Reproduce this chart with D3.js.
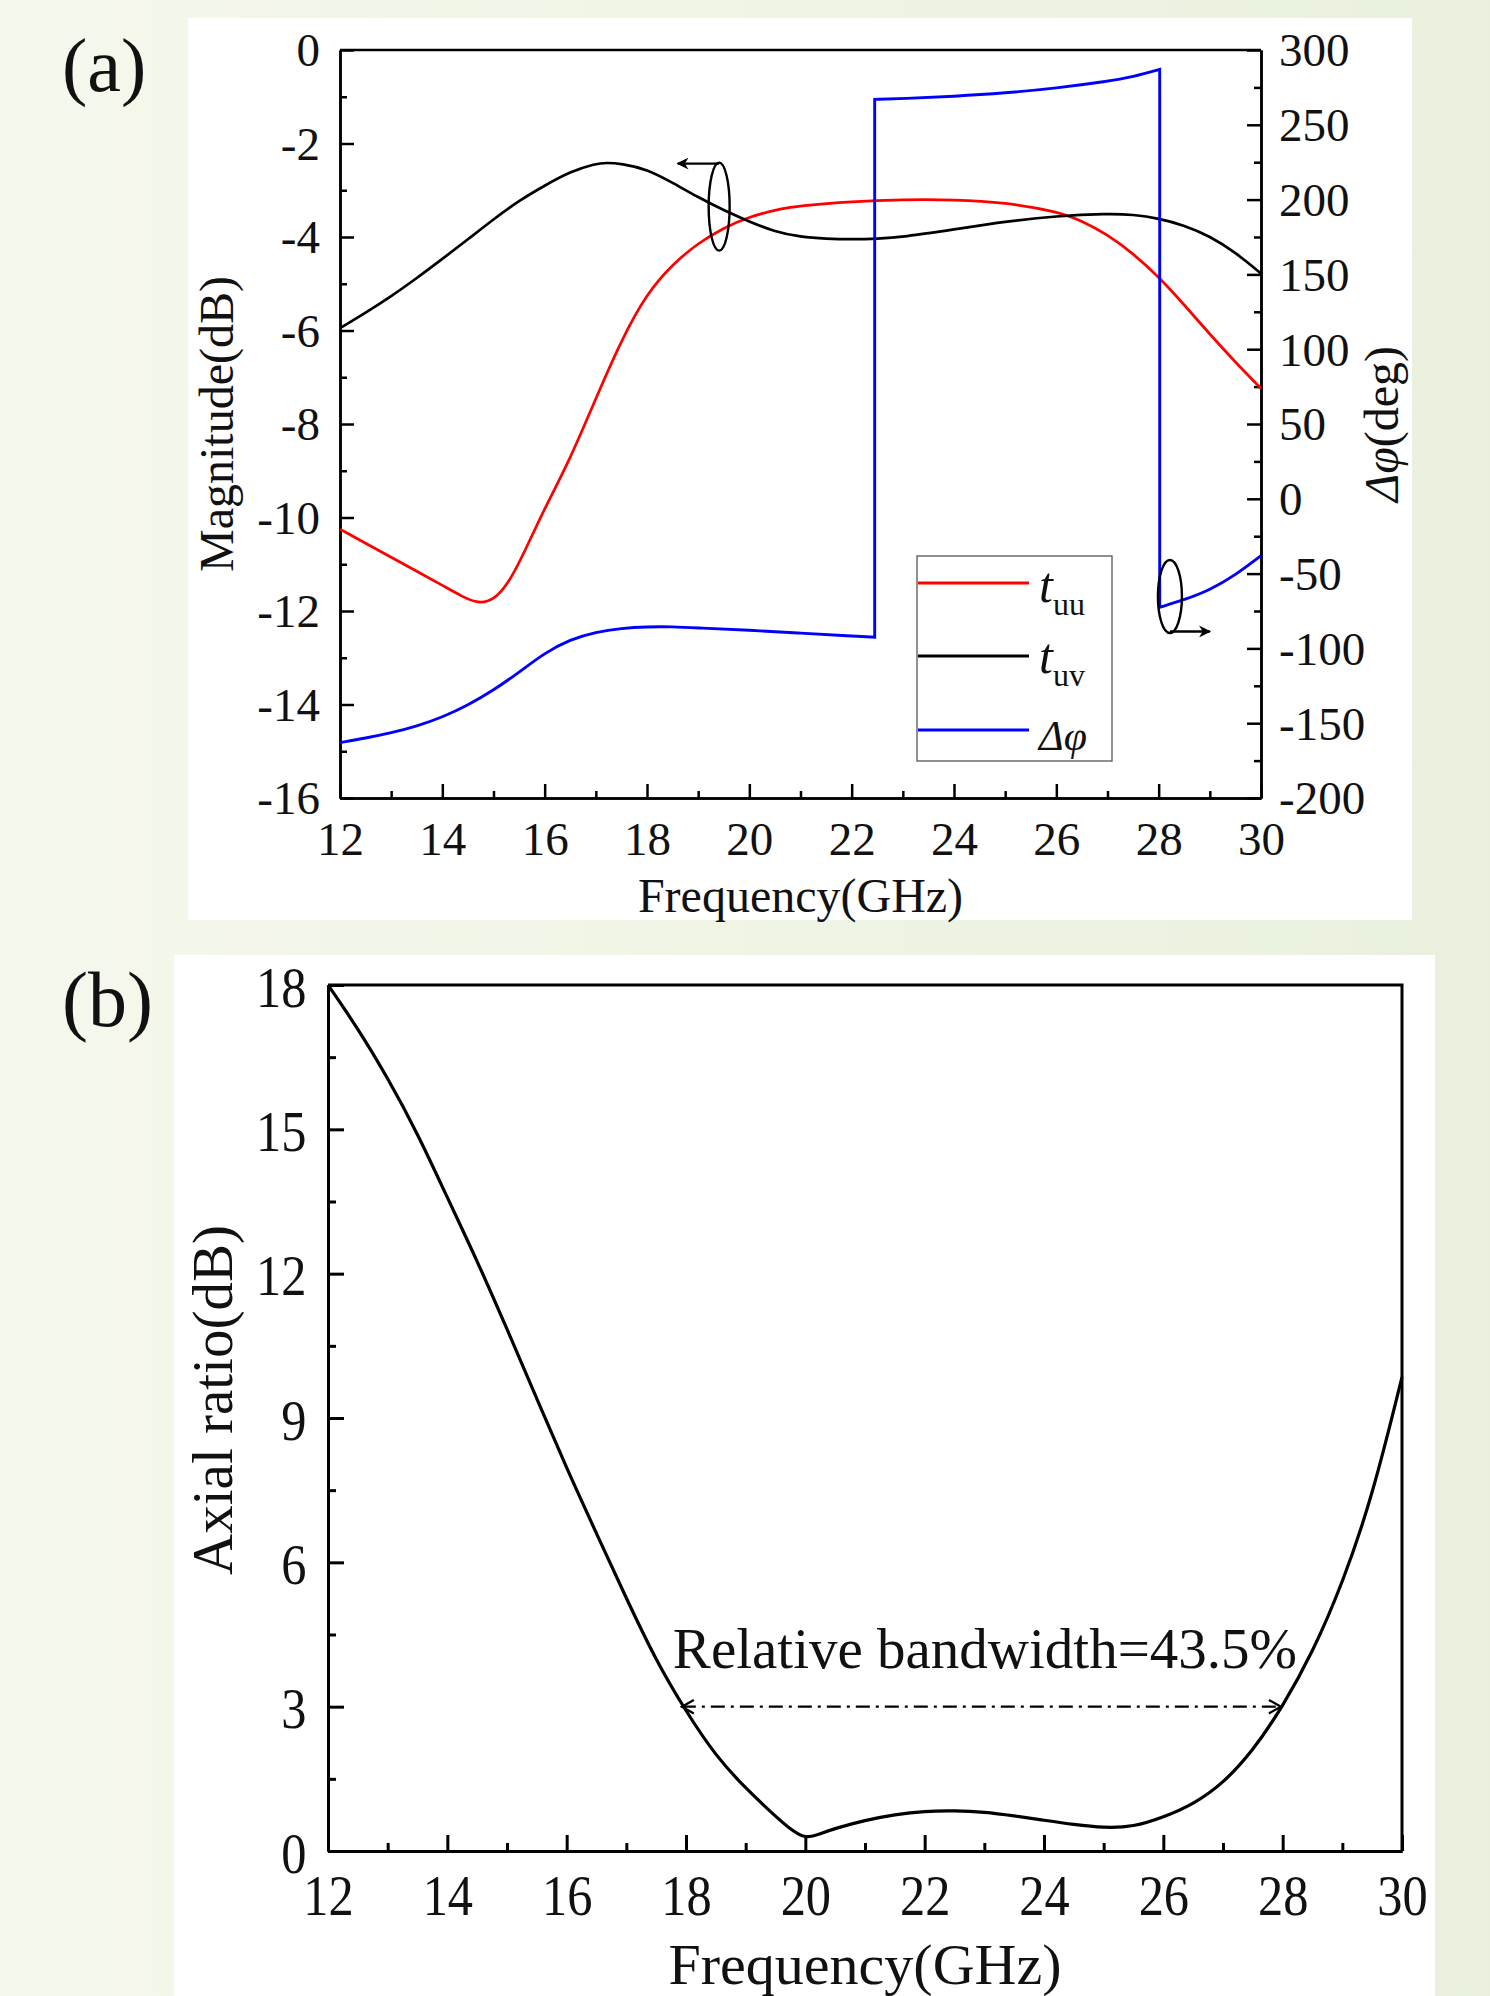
<!DOCTYPE html>
<html>
<head>
<meta charset="utf-8">
<script src="https://cdnjs.cloudflare.com/ajax/libs/d3/7.8.5/d3.min.js"></script>
<style>
  body { margin: 0; background: #eef3e3; }
  svg { display: block; }
  text { font-family: "Liberation Serif", "Times New Roman", serif; fill: #111; }
</style>
</head>
<body>
<div id="chart"></div>
<script>
// Transmission magnitude / phase (a) and axial ratio (b)

var width = 1490
var height = 1996

// ---- panel (a) data ----
var tuuFreq = [12, 12.5, 13, 13.5, 14, 14.4, 14.7, 15, 15.3, 15.6, 16, 16.5, 17, 17.5, 18, 18.5, 19, 19.5, 20, 20.5, 21, 22, 23, 24, 25, 26, 26.5, 27, 27.5, 28, 28.5, 29, 29.5, 30]
var tuuDb   = [-10.25, -10.55, -10.85, -11.15, -11.45, -11.7, -11.84, -11.78, -11.4, -10.75, -9.8, -8.75, -7.45, -6.2, -5.2, -4.58, -4.13, -3.8, -3.57, -3.42, -3.33, -3.24, -3.2, -3.2, -3.26, -3.45, -3.65, -3.95, -4.35, -4.85, -5.45, -6.08, -6.68, -7.24]

var tuvFreq = [12, 12.5, 13, 13.5, 14, 14.5, 15, 15.5, 16, 16.5, 17, 17.2, 17.5, 18, 18.5, 19, 19.5, 20, 20.5, 21, 21.5, 22, 22.5, 23, 24, 25, 26, 27, 27.5, 28, 28.5, 29, 29.5, 30]
var tuvDb   = [-5.95, -5.62, -5.27, -4.88, -4.47, -4.05, -3.62, -3.22, -2.9, -2.6, -2.43, -2.41, -2.43, -2.55, -2.84, -3.15, -3.43, -3.67, -3.89, -4.0, -4.04, -4.05, -4.04, -4.0, -3.84, -3.67, -3.55, -3.5, -3.52, -3.6, -3.75, -3.98, -4.33, -4.78]

// phase difference, three branches (wraps at 22.45 and 28.02 GHz)
var phaseLowFreq  = [12, 12.5, 13, 13.5, 14, 14.5, 15, 15.5, 16, 16.5, 17, 17.5, 18, 18.5, 19, 20, 21, 22, 22.45]
var phaseLowDeg   = [-163, -160, -156.5, -152, -146, -138, -128, -116, -103, -94, -89, -86.5, -85.5, -85.5, -86.3, -87.8, -89.8, -91.7, -92.5]
var phaseHighFreq = [22.45, 23, 24, 25, 26, 27, 27.5, 28.02]
var phaseHighDeg  = [267, 267.5, 269, 271.2, 274.5, 279, 282, 287]
var phaseEndFreq  = [28.02, 28.5, 29, 29.5, 30]
var phaseEndDeg   = [-72.5, -67.5, -61, -51, -38]

var magTicks = [0, -2, -4, -6, -8, -10, -12, -14, -16]
var phaseTicks = [300, 250, 200, 150, 100, 50, 0, -50, -100, -150, -200]
var freqTicks = [12, 14, 16, 18, 20, 22, 24, 26, 28, 30]

// ---- panel (b) data ----
var arFreq = [12, 12.5, 13, 13.5, 14, 14.5, 15, 15.5, 16, 16.5, 17, 17.5, 18, 18.5, 19, 19.5, 19.75, 20, 20.25, 20.5, 21, 21.5, 22, 22.5, 23, 23.5, 24, 24.5, 25, 25.5, 26, 26.5, 27, 27.5, 28, 28.5, 29, 29.5, 30]
var arDb   = [18.0, 17.1, 16.07, 14.92, 13.58, 12.27, 10.85, 9.4, 7.95, 6.6, 5.25, 3.95, 2.9, 1.97, 1.3, 0.72, 0.45, 0.25, 0.36, 0.47, 0.64, 0.76, 0.83, 0.84, 0.81, 0.73, 0.64, 0.55, 0.48, 0.5, 0.7, 0.97, 1.4, 2.08, 3.0, 4.12, 5.55, 7.35, 9.85]
var arTicks = [0, 3, 6, 9, 12, 15, 18]
var bandStart = 17.93
var bandEnd = 27.97
var bandLabel = "Relative bandwidth=43.5%"

var svg = d3.select("#chart")
  .append("svg")
    .attr("width", width)
    .attr("height", height)

var defs = svg.append("defs")
var grad = defs.append("linearGradient").attr("id", "bg").attr("x1", 0).attr("x2", 1).attr("y1", 0).attr("y2", 0)
grad.append("stop").attr("offset", "0%").attr("stop-color", "#f5f8ec")
grad.append("stop").attr("offset", "100%").attr("stop-color", "#e9f1de")

defs.append("marker").attr("id", "headFill")
    .attr("viewBox", "0 0 10 10").attr("refX", 9).attr("refY", 5)
    .attr("markerWidth", 14).attr("markerHeight", 12).attr("markerUnits", "userSpaceOnUse")
    .attr("orient", "auto")
  .append("path").attr("d", "M0,0 L10,5 L0,10 L3,5 Z").attr("fill", "#000")

defs.append("marker").attr("id", "headOpen")
    .attr("viewBox", "0 0 10 10").attr("refX", 9).attr("refY", 5)
    .attr("markerWidth", 15).attr("markerHeight", 17).attr("markerUnits", "userSpaceOnUse")
    .attr("orient", "auto-start-reverse")
  .append("path").attr("d", "M1,0.5 L9,5 L1,9.5").attr("fill", "none").attr("stroke", "#000").attr("stroke-width", 1.5)

svg.append("rect").attr("width", width).attr("height", height).attr("fill", "url(#bg)")

// ================= panel (a) =================
svg.append("rect").attr("x", 188).attr("y", 18).attr("width", 1224).attr("height", 902).attr("fill", "#fff")

var ax = { left: 340, right: 1261, top: 50, bottom: 798 }

var xA = d3.scaleLinear().domain([12, 30]).range([ax.left, ax.right])
var yMag = d3.scaleLinear().domain([-16, 0]).range([ax.bottom, ax.top])
var yPh = d3.scaleLinear().domain([-200, 300]).range([ax.bottom, ax.top])

function minorOf(ticks) {
  var out = []
  for (var i = 0; i < ticks.length - 1; i++) out.push((ticks[i] + ticks[i + 1]) / 2)
  return out
}

function styleAxis(g, w) {
  g.selectAll("path.domain").attr("stroke", "#000").attr("stroke-width", w)
  g.selectAll(".tick line").attr("stroke", "#000").attr("stroke-width", w)
}

// x axis
var gxA = svg.append("g").attr("transform", "translate(0," + ax.bottom + ")")
  .call(d3.axisBottom(xA).tickValues(freqTicks).tickSize(-14).tickSizeOuter(0))
gxA.call(styleAxis, 2.5)
gxA.selectAll("text").attr("y", 57).attr("dy", null).attr("font-size", 47).style("font-family", "Liberation Serif")
svg.append("g").attr("transform", "translate(0," + ax.bottom + ")")
  .call(d3.axisBottom(xA).tickValues(minorOf(freqTicks)).tickSize(-7).tickSizeOuter(0).tickFormat(""))
  .call(styleAxis, 2.5)

// left axis
var gyA = svg.append("g").attr("transform", "translate(" + ax.left + ",0)")
  .call(d3.axisLeft(yMag).tickValues(magTicks).tickSize(-14).tickPadding(20).tickSizeOuter(0))
gyA.call(styleAxis, 2.5)
gyA.selectAll("text").attr("font-size", 47).attr("dy", "0.34em").style("font-family", "Liberation Serif")
  .text(function(d) { return String(d) })
svg.append("g").attr("transform", "translate(" + ax.left + ",0)")
  .call(d3.axisLeft(yMag).tickValues(minorOf(magTicks)).tickSize(-7).tickSizeOuter(0).tickFormat(""))
  .call(styleAxis, 2.5)

// right axis
var gyR = svg.append("g").attr("transform", "translate(" + ax.right + ",0)")
  .call(d3.axisRight(yPh).tickValues(phaseTicks).tickSize(-14).tickPadding(18).tickSizeOuter(0))
gyR.call(styleAxis, 2.5)
gyR.selectAll("text").attr("font-size", 47).attr("dy", "0.34em").style("font-family", "Liberation Serif")
  .text(function(d) { return String(d) })
svg.append("g").attr("transform", "translate(" + ax.right + ",0)")
  .call(d3.axisRight(yPh).tickValues(minorOf(phaseTicks)).tickSize(-7).tickSizeOuter(0).tickFormat(""))
  .call(styleAxis, 2.5)

// top frame line
svg.append("line").attr("x1", ax.left).attr("x2", ax.right).attr("y1", ax.top).attr("y2", ax.top)
  .attr("stroke", "#000").attr("stroke-width", 2.5)

// curves
var magLine = d3.line().x(function(d) { return xA(d[0]) }).y(function(d) { return yMag(d[1]) }).curve(d3.curveBasis)
var phLine = d3.line().x(function(d) { return xA(d[0]) }).y(function(d) { return yPh(d[1]) }).curve(d3.curveBasis)

svg.append("path").datum(d3.zip(tuuFreq, tuuDb)).attr("d", magLine)
  .attr("fill", "none").attr("stroke", "#ff0000").attr("stroke-width", 2.7)
svg.append("path").datum(d3.zip(tuvFreq, tuvDb)).attr("d", magLine)
  .attr("fill", "none").attr("stroke", "#000").attr("stroke-width", 2.7)

var phasePath = phLine(d3.zip(phaseLowFreq, phaseLowDeg))
  + phLine(d3.zip(phaseHighFreq, phaseHighDeg)).replace(/^M/, "L")
  + phLine(d3.zip(phaseEndFreq, phaseEndDeg)).replace(/^M/, "L")
svg.append("path").attr("d", phasePath)
  .attr("fill", "none").attr("stroke", "#0000ff").attr("stroke-width", 2.9)

// axis-pointer annotations
svg.append("ellipse").attr("cx", xA(19.41)).attr("cy", yMag(-3.35)).attr("rx", 10.5).attr("ry", 44)
  .attr("fill", "none").attr("stroke", "#000").attr("stroke-width", 2.4)
svg.append("line").attr("x1", xA(19.41)).attr("y1", yMag(-3.35) - 43).attr("x2", xA(18.6)).attr("y2", yMag(-3.35) - 43)
  .attr("stroke", "#000").attr("stroke-width", 2.4).attr("marker-end", "url(#headFill)")

svg.append("ellipse").attr("cx", xA(28.22)).attr("cy", yPh(-65.3)).attr("rx", 12).attr("ry", 36.5)
  .attr("fill", "none").attr("stroke", "#000").attr("stroke-width", 2.4)
svg.append("line").attr("x1", xA(28.22)).attr("y1", yPh(-65.3) + 35).attr("x2", xA(29.0)).attr("y2", yPh(-65.3) + 35)
  .attr("stroke", "#000").attr("stroke-width", 2.4).attr("marker-end", "url(#headFill)")

// legend
var legend = svg.append("g")
legend.append("rect").attr("x", 917).attr("y", 556).attr("width", 195).attr("height", 205)
  .attr("fill", "#fff").attr("stroke", "#555").attr("stroke-width", 1.3)
var legendItems = [
  { color: "#ff0000", ly: 583, ty: 602, main: "t", sub: "uu", size: 50 },
  { color: "#000000", ly: 656, ty: 673, main: "t", sub: "uv", size: 50 },
  { color: "#0000ff", ly: 730, ty: 750, main: "\u0394\u03c6", sub: "", size: 42 }
]
legendItems.forEach(function(it) {
  legend.append("line").attr("x1", 918).attr("x2", 1029).attr("y1", it.ly).attr("y2", it.ly)
    .attr("stroke", it.color).attr("stroke-width", 3)
  var t = legend.append("text").attr("x", 1039).attr("y", it.ty).attr("font-size", it.size)
  t.append("tspan").attr("font-style", "italic").text(it.main)
  if (it.sub) t.append("tspan").attr("font-size", 32).attr("dy", 13).text(it.sub)
})

// titles
svg.append("text").attr("x", (ax.left + ax.right) / 2).attr("y", 912).attr("text-anchor", "middle")
  .attr("font-size", 48).text("Frequency(GHz)")
svg.append("text").attr("transform", "translate(233," + ((ax.top + ax.bottom) / 2) + ") rotate(-90)")
  .attr("text-anchor", "middle").attr("font-size", 48).text("Magnitude(dB)")
var phTitle = svg.append("text").attr("transform", "translate(1398," + ((ax.top + ax.bottom) / 2) + ") rotate(-90)")
  .attr("text-anchor", "middle").attr("font-size", 48)
phTitle.append("tspan").attr("font-style", "italic").text("\u0394\u03c6")
phTitle.append("tspan").text("(deg)")

svg.append("text").attr("x", 62).attr("y", 91).attr("font-size", 76).text("(a)")

// ================= panel (b) =================
svg.append("rect").attr("x", 174).attr("y", 955).attr("width", 1261).attr("height", 1041).attr("fill", "#fff")

var bx = { left: 328, right: 1402, top: 985, bottom: 1851 }
var xB = d3.scaleLinear().domain([12, 30]).range([bx.left, bx.right])
var yB = d3.scaleLinear().domain([0, 18]).range([bx.bottom, bx.top])

var gxB = svg.append("g").attr("transform", "translate(0," + bx.bottom + ")")
  .call(d3.axisBottom(xB).tickValues(freqTicks).tickSize(-16).tickSizeOuter(0))
gxB.call(styleAxis, 3)
gxB.selectAll("text").attr("y", 64).attr("dy", null).attr("font-size", 56).attr("transform", "scale(0.9,1)")
  .style("font-family", "Liberation Serif")
svg.append("g").attr("transform", "translate(0," + bx.bottom + ")")
  .call(d3.axisBottom(xB).tickValues(minorOf(freqTicks)).tickSize(-8).tickSizeOuter(0).tickFormat(""))
  .call(styleAxis, 3)

var gyB = svg.append("g").attr("transform", "translate(" + bx.left + ",0)")
  .call(d3.axisLeft(yB).tickValues(arTicks).tickSize(-16).tickPadding(24).tickSizeOuter(0))
gyB.call(styleAxis, 3)
gyB.selectAll("text").attr("font-size", 56).attr("dy", "0.38em").attr("transform", "scale(0.9,1)")
  .style("font-family", "Liberation Serif")
svg.append("g").attr("transform", "translate(" + bx.left + ",0)")
  .call(d3.axisLeft(yB).tickValues(minorOf(arTicks)).tickSize(-8).tickSizeOuter(0).tickFormat(""))
  .call(styleAxis, 3)

svg.append("path").attr("d", "M" + bx.left + "," + bx.top + "H" + bx.right + "V" + bx.bottom)
  .attr("fill", "none").attr("stroke", "#000").attr("stroke-width", 3)

var arLine = d3.line().x(function(d) { return xB(d[0]) }).y(function(d) { return yB(d[1]) }).curve(d3.curveBasis)
svg.append("path").datum(d3.zip(arFreq, arDb)).attr("d", arLine)
  .attr("fill", "none").attr("stroke", "#000").attr("stroke-width", 3.2)

// 3 dB bandwidth marker
svg.append("line").attr("x1", xB(bandStart)).attr("x2", xB(bandEnd)).attr("y1", yB(3)).attr("y2", yB(3))
  .attr("stroke", "#000").attr("stroke-width", 2.2).attr("stroke-dasharray", "14,6,3,6")
  .attr("marker-start", "url(#headOpen)").attr("marker-end", "url(#headOpen)")
svg.append("text").attr("x", xB(17.78)).attr("y", yB(3) - 39).attr("font-size", 57).text(bandLabel)

svg.append("text").attr("x", (bx.left + bx.right) / 2).attr("y", 1984).attr("text-anchor", "middle")
  .attr("font-size", 58).text("Frequency(GHz)")
svg.append("text").attr("transform", "translate(232,1400) rotate(-90)")
  .attr("text-anchor", "middle").attr("font-size", 57).text("Axial ratio(dB)")

svg.append("text").attr("x", 62).attr("y", 1026).attr("font-size", 78).text("(b)")
</script>
</body>
</html>
